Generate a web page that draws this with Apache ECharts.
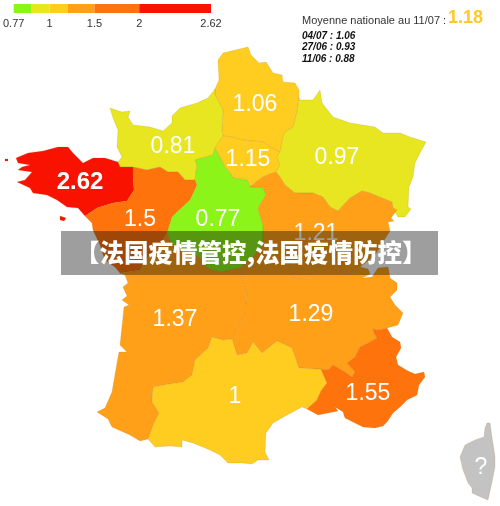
<!DOCTYPE html>
<html>
<head>
<meta charset="utf-8">
<style>
html, body { margin: 0; padding: 0; background: #fff; }
#chart { width: 500px; height: 506px; }
</style>
<script src="https://cdn.jsdelivr.net/npm/echarts@6/dist/echarts.min.js"></script>
</head>
<body>
<div id="chart"></div>
<script>
// legend scale
let legendStops = [0, 18, 36, 54, 81, 126, 198]
let legendColors = ['#8cf419', '#e8e620', '#ffcc20', '#ffa018', '#ff730d', '#fa1200']
let legendTicks = [0, 36, 81, 126, 198]
let legendTickLabels = ['0.77', '1', '1.5', '2', '2.62']
let colorBreaks = [0.8, 1, 1.2, 1.5, 2]

// regions
let regionNames = ['Hauts-de-France', 'Normandie', 'Ile-de-France', 'Grand Est', 'Bretagne', 'Pays de la Loire',
	'Centre-Val de Loire', 'Bourgogne-Franche-Comte', 'Nouvelle-Aquitaine', 'Auvergne-Rhone-Alpes', 'Occitanie', 'PACA', 'Corse']
let regionValues = [1.06, 0.81, 1.15, 0.97, 2.62, 1.5, 0.77, 1.21, 1.37, 1.29, 1, 1.55, null]
let regionLabelAt = [[255, 103], [173, 145], [248, 158], [337, 156], [80, 180], [140, 218],
	[218, 218], [316, 232], [175, 318], [311, 313], [235, 395], [368, 392], [481, 466]]

// history text
let nationalLabel = 'Moyenne nationale au 11/07 :'
let nationalValue = '1.18'
let historyLines = ['04/07 : 1.06', '27/06 : 0.93', '11/06 : 0.88']
let bannerText = '【法国疫情管控,法国疫情防控】'

let coastHdf = [[215, 89], [219, 80], [218, 60], [223, 53], [248, 47], [251, 55], [259, 63], [266, 62], [273, 73], [282, 75], [283, 82], [295, 83], [299, 90], [299, 98]]
let hdfGe = [[299, 98], [297, 112], [293, 127], [284, 133], [280, 152]]
let hdfIdf = [[280, 152], [270, 147], [263, 142], [243, 140], [232, 137], [223, 136]]
let hdfNorm = [[223, 136], [222, 130], [223, 110], [215, 95], [215, 89]]
let coastNorm = [[215, 89], [208, 98], [197, 103], [180, 108], [172, 116], [172, 123], [163, 131], [150, 127], [133, 125], [128, 117], [130, 111], [122, 112], [110, 108], [113, 118], [118, 130], [117, 147], [122, 157], [118, 162], [120, 167], [133, 167]]
let normPdl = [[133, 167], [147, 170], [160, 167], [168, 172], [178, 172], [185, 180], [195, 180]]
let normCentre = [[195, 180], [197, 165], [195, 160], [213, 155], [215, 148]]
let normIdf = [[215, 148], [223, 136]]
let idfGe = [[280, 152], [277, 157], [280, 165], [276, 172]]
let idfBfc = [[276, 172], [270, 174], [263, 177], [256, 182], [250, 187]]
let idfCentre = [[250, 187], [247, 180], [233, 178], [230, 173], [225, 167], [215, 148]]
let coastGe = [[299, 98], [300, 100], [313, 100], [320, 90], [322, 103], [333, 117], [350, 123], [375, 127], [383, 133], [400, 133], [410, 137], [426, 142], [420, 153], [415, 163], [413, 177], [409, 187], [408, 207], [411, 209], [405, 217], [398, 217], [393, 208]]
let geBfc = [[393, 208], [392, 202], [382, 198], [370, 193], [362, 191], [350, 198], [338, 211], [330, 207], [323, 197], [313, 193], [295, 193], [285, 185], [280, 177], [276, 172]]
let coastBfc = [[393, 208], [397, 210], [391, 218], [394, 221], [388, 222], [390, 231], [383, 242], [375, 255], [365, 263], [360, 267]]
let bfcAra = [[360, 267], [347, 275], [333, 262], [325, 263], [312, 272], [305, 280], [293, 278], [287, 263], [275, 262], [260, 268], [243, 265]]
let bfcCentre = [[243, 265], [250, 260], [263, 245], [263, 225], [258, 208], [266, 195], [263, 187], [250, 187]]
let centreNa = [[243, 265], [240, 268], [220, 272], [207, 268], [200, 258], [190, 252], [172, 245], [167, 233]]
let centrePdl = [[167, 233], [172, 217], [177, 212], [190, 200], [197, 185], [195, 180]]
let pdlNa = [[167, 233], [158, 248], [145, 260], [140, 270], [120, 273]]
let coastPdl = [[120, 273], [115, 267], [105, 260], [100, 245], [93, 230], [92, 223], [85, 216]]
let pdlBret = [[85, 216], [97, 208], [113, 203], [127, 201], [134, 190], [133, 177], [133, 167]]
let coastBret = [[133, 167], [120, 167], [118, 162], [105, 158], [93, 158], [83, 163], [73, 153], [68, 147], [58, 147], [43, 151], [28, 153], [16, 158], [18, 163], [30, 165], [22, 167], [18, 170], [32, 172], [25, 180], [17, 182], [30, 188], [33, 193], [47, 195], [57, 200], [67, 207], [78, 208], [85, 216]]
let belleIle = [[60, 216], [66, 218], [64, 221], [60, 220]]
let ouessant = [[5, 159], [8, 159], [8, 161], [5, 161]]
let naAra = [[243, 265], [240, 272], [247, 292], [245, 315], [237, 327], [232, 339]]
let naOcc = [[232, 339], [223, 340], [212, 337], [208, 348], [195, 360], [192, 375], [183, 382], [163, 385], [153, 387], [152, 402], [159, 413], [153, 425], [148, 439]]
let coastNa = [[148, 439], [140, 441], [130, 435], [112, 427], [108, 419], [97, 412], [105, 408], [112, 392], [117, 363], [119, 352], [127, 352], [120, 345], [123, 317], [124, 307], [129, 305], [122, 300], [127, 296], [123, 287], [128, 283], [125, 275], [120, 273]]
let coastAra = [[360, 267], [368, 269], [370, 274], [362, 278], [372, 277], [378, 268], [388, 267], [390, 278], [397, 283], [397, 290], [390, 297], [395, 305], [403, 313], [398, 325], [387, 328]]
let araPaca = [[387, 328], [380, 330], [373, 329], [374, 333], [377, 338], [370, 342], [360, 347], [355, 357], [347, 363], [355, 372], [352, 377], [345, 372], [333, 365], [328, 370], [321, 369]]
let araOcc = [[321, 369], [315, 369], [299, 368], [292, 348], [277, 341], [262, 353], [253, 342], [247, 353], [237, 355], [232, 339]]
let occPaca = [[321, 369], [327, 383], [321, 391], [317, 400], [307, 409]]
let coastOcc = [[307, 409], [302, 407], [287, 415], [273, 423], [266, 433], [265, 452], [269, 460], [258, 460], [252, 464], [242, 463], [228, 463], [220, 455], [210, 450], [193, 443], [182, 440], [182, 447], [170, 446], [155, 447], [148, 439]]
let coastPaca = [[387, 328], [392, 337], [400, 342], [401, 348], [396, 357], [398, 365], [408, 371], [415, 374], [424, 372], [425, 377], [419, 385], [417, 395], [407, 400], [400, 407], [393, 413], [387, 422], [383, 426], [375, 428], [363, 427], [355, 423], [345, 418], [343, 412], [340, 410], [335, 407], [338, 411], [328, 413], [318, 415], [307, 409]]
let coastCorse = [[487, 423], [490, 423], [492, 437], [495, 457], [495, 467], [492, 482], [488, 500], [483, 498], [472, 493], [472, 488], [468, 483], [465, 475], [463, 470], [460, 457], [465, 445], [475, 440], [484, 437], [485, 428], [487, 423]]

let rev = (line) => line.slice().reverse()
let ring = (...lines) => [].concat(...lines).map(p => [p[0], -p[1]])

let regionRings = [
	[ring(coastHdf, hdfGe, hdfIdf, hdfNorm)],
	[ring(coastNorm, normPdl, normCentre, normIdf, hdfNorm)],
	[ring(rev(hdfIdf), idfGe, idfBfc, idfCentre, normIdf)],
	[ring(coastGe, geBfc, rev(idfGe), rev(hdfGe))],
	[ring(coastBret, pdlBret), ring(belleIle), ring(ouessant)],
	[ring(normPdl, rev(centrePdl), pdlNa, coastPdl, pdlBret)],
	[ring(rev(idfCentre), rev(bfcCentre), centreNa, centrePdl, normCentre)],
	[ring(rev(geBfc), coastBfc, bfcAra, bfcCentre, rev(idfBfc))],
	[ring(rev(pdlNa), rev(centreNa), naAra, naOcc, coastNa)],
	[ring(rev(bfcAra), coastAra, araPaca, araOcc, rev(naAra))],
	[ring(rev(araOcc), occPaca, coastOcc, rev(naOcc))],
	[ring(rev(araPaca), coastPaca, rev(occPaca))],
	[ring(coastCorse)]
]

echarts.registerMap('france', {
	type: 'FeatureCollection',
	features: regionNames.map((name, i) => ({
		type: 'Feature',
		properties: { name: name, cp: [regionLabelAt[i][0], -regionLabelAt[i][1]] },
		geometry: { type: 'MultiPolygon', coordinates: regionRings[i].map(r => [r]) }
	}))
})

let colorFor = (value) => {
	if (value === null) return '#c3c3c3'
	let i = colorBreaks.findIndex(b => value < b)
	return legendColors[i === -1 ? colorBreaks.length : i]
}

let font = '"Liberation Sans", Arial, sans-serif'

let legendSeries = legendColors.map((color, i) => ({
	type: 'bar',
	stack: 'scale',
	barWidth: '100%',
	silent: true,
	itemStyle: { color: color },
	data: [legendStops[i + 1] - legendStops[i]]
}))

let historyText = historyLines.map((line, i) => ({
	type: 'text',
	left: 302,
	top: 31 + i * 11.6,
	style: { text: line, fill: '#111', font: `italic bold 10px ${font}` }
}))

let opt = {
	animation: false,
	backgroundColor: '#fff',
	grid: { left: 13, top: 4, width: 198, height: 9 },
	xAxis: {
		type: 'value',
		min: 0,
		max: 198,
		splitLine: { show: false },
		axisLine: { show: false },
		axisTick: { show: false },
		axisLabel: {
			customValues: legendTicks,
			formatter: (v) => legendTickLabels[legendTicks.indexOf(v)],
			color: '#333',
			fontFamily: font,
			fontSize: 11,
			margin: 5,
			hideOverlap: false
		}
	},
	yAxis: { type: 'category', data: ['scale'], show: false },
	series: legendSeries.concat([{
		type: 'map',
		map: 'france',
		aspectScale: 1,
		boundingCoords: [[0, 0], [500, -506]],
		left: 0,
		top: 0,
		width: 500,
		height: 506,
		silent: true,
		selectedMode: false,
		itemStyle: { borderColor: 'rgba(170,110,20,0.35)', borderWidth: 0.5 },
		label: {
			show: true,
			color: '#fff',
			fontFamily: font,
			fontSize: 23,
			offset: [0, 2],
			formatter: (p) => isNaN(p.value) ? '?' : p.value
		},
		data: regionNames.map((name, i) => ({
			name: name,
			value: regionValues[i],
			itemStyle: { areaColor: colorFor(regionValues[i]) },
			label: regionValues[i] === 2.62 ? { fontWeight: 'bold', fontSize: 24 } : {}
		}))
	}]),
	graphic: [
		{ type: 'text', left: 302, top: 15, style: { text: nationalLabel, fill: '#333', font: `11px ${font}` } },
		{ type: 'text', left: 448, top: 9, style: { text: nationalValue, fill: '#ffc829', font: `bold 18px ${font}` } }
	].concat(historyText, [
		{ type: 'rect', z: 100, shape: { x: 61, y: 231, width: 377, height: 44 }, style: { fill: 'rgba(0,0,0,0.38)' } },
		{
			type: 'text',
			z: 101,
			left: 75,
			top: 240,
			style: {
				text: bannerText,
				fill: '#fff',
				font: '900 24.5px "Noto Sans CJK SC", sans-serif'
			}
		}
	])
}

let myChart = echarts.init(document.querySelector('#chart'))
myChart.setOption(opt)
</script>
</body>
</html>
